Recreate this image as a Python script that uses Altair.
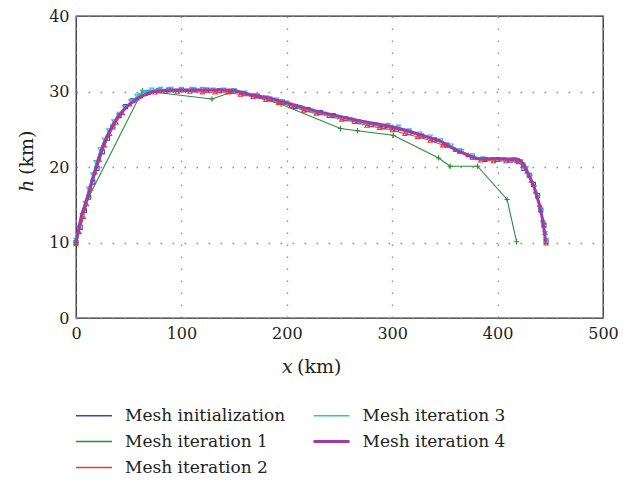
import altair as alt
import pandas as pd

series_names = ["Mesh initialization", "Mesh iteration 1", "Mesh iteration 2",
                "Mesh iteration 3", "Mesh iteration 4"]
series_colors = ["#3346c4", "#2a8a3c", "#f03434", "#2cc4c8", "#a23aa8"]

x_ticks = [0, 100, 200, 300, 400, 500]
h_ticks = [0, 10, 20, 30, 40]

# Mesh initialization (blue squares)
x0 = [0, 4, 8, 12, 16, 20, 25, 30, 35, 41, 47, 54, 61, 69, 78, 88, 100, 112, 124, 136,
      148, 160, 172, 184, 196, 208, 220, 232, 244, 256, 268, 280, 292, 304, 316, 328,
      340, 352, 364, 376, 388, 400, 412, 420, 425, 430, 434, 438, 441, 444, 446]
h0 = [10.0, 12.0, 14.2, 16.0, 18.0, 19.8, 22.0, 23.8, 25.3, 26.8, 28.0, 28.8, 29.4,
      29.9, 30.1, 30.2, 30.2, 30.2, 30.2, 30.1, 30.0, 29.7, 29.4, 29.0, 28.6, 28.0,
      27.6, 27.2, 26.8, 26.4, 26.0, 25.6, 25.3, 25.0, 24.6, 24.1, 23.6, 22.9, 22.1,
      21.3, 21.0, 21.0, 20.9, 20.7, 19.8, 18.9, 17.7, 16.2, 14.3, 12.3, 10.1]

# Mesh iteration 1 (green plus)
x1 = [0, 12, 63, 129, 151.5, 194.5, 251, 267, 301, 344, 355, 381, 409, 418]
h1 = [10.0, 16.0, 30.1, 29.0, 30.1, 28.3, 25.1, 24.8, 24.2, 21.2, 20.1, 20.1, 15.7, 10.1]

# Mesh iteration 2 (red triangles)
x2 = [0, 3, 7, 10, 14, 18, 22, 27, 32, 38, 44, 51, 58, 66, 75, 85, 96, 108, 120, 132,
      144, 156, 168, 180, 192, 204, 216, 228, 240, 252, 264, 276, 288, 300, 312, 324,
      336, 348, 360, 372, 384, 396, 408, 418, 424, 428, 432, 436, 440, 443, 445, 446]
h2 = [9.8, 11.4, 13.4, 15.1, 17.2, 19.3, 21.0, 22.9, 24.4, 25.9, 27.2, 28.3, 29.1,
      29.7, 29.9, 30.0, 30.0, 30.0, 29.9, 29.9, 29.9, 29.6, 29.3, 28.9, 28.5, 28.1,
      27.5, 27.1, 26.8, 26.3, 26.0, 25.5, 25.2, 24.9, 24.4, 24.0, 23.5, 22.9, 22.3,
      21.6, 20.9, 20.8, 20.8, 20.8, 20.2, 19.4, 18.2, 16.8, 15.0, 13.0, 11.3, 9.9]

# Mesh iteration 3 (cyan down-triangles)
x3 = [0, 3, 6, 9, 12, 16, 19, 23, 27, 31, 36, 41, 46, 52, 58, 65, 72, 80, 90, 100, 110,
      120, 130, 140, 150, 160, 170, 180, 190, 200, 212, 224, 236, 248, 260, 272, 284,
      296, 306, 316, 326, 336, 346, 356, 366, 376, 386, 396, 406, 416, 422, 427, 431,
      435, 438, 441, 443, 445, 446]
h3 = [10.3, 12.0, 13.6, 15.2, 17.1, 19.0, 20.6, 22.3, 23.6, 24.8, 26.0, 27.0, 27.9,
      28.7, 29.4, 29.9, 30.2, 30.3, 30.3, 30.3, 30.3, 30.3, 30.2, 30.2, 30.1, 29.8,
      29.5, 29.2, 28.9, 28.5, 27.9, 27.4, 27.0, 26.6, 26.3, 25.8, 25.6, 25.5, 25.3,
      24.8, 24.4, 24.0, 23.5, 22.8, 22.1, 21.5, 21.1, 21.0, 21.0, 21.0, 20.7, 19.8,
      18.7, 17.3, 16.0, 14.2, 12.6, 11.2, 10.3]

# Mesh iteration 4 (thick purple line)
x4 = [0, 5, 11, 15, 20, 26, 29, 35, 39, 48, 61, 73, 90, 120, 149, 165, 184, 203, 228,
      247, 270, 298, 317, 330, 345, 361, 380, 400, 420, 425, 429, 434, 439, 442, 444, 445.5]
h4 = [10.0, 13.5, 16.1, 18.1, 20.4, 23.0, 23.9, 25.6, 26.5, 28.0, 29.3, 30.0, 30.2,
      30.2, 30.2, 29.6, 29.1, 28.4, 27.4, 26.8, 26.1, 25.4, 24.7, 24.1, 23.5, 22.2,
      21.1, 21.1, 21.0, 20.4, 19.1, 17.6, 15.3, 13.5, 11.8, 10.1]

y_title_parts = ["h", "(km)"]
x_title_parts = ["x", "(km)"]

all_x = [x0, x1, x2, x3, x4]
all_h = [h0, h1, h2, h3, h4]
frames = []
for name, xs, hs in zip(series_names, all_x, all_h):
    frames.append(pd.DataFrame({"series": name, "x": xs, "h": hs, "idx": list(range(len(xs)))}))
df = pd.concat(frames, ignore_index=True)

FONT = "DejaVu Serif"

xenc = alt.X("x:Q", scale=alt.Scale(domain=[0, 500], nice=False),
             axis=alt.Axis(values=x_ticks, title=None, labelPadding=7, labelFlush=False))
yenc = alt.Y("h:Q", scale=alt.Scale(domain=[0, 40], nice=False),
             axis=alt.Axis(values=h_ticks, title=None, labelPadding=7, labelFlush=False))
cenc = alt.Color("series:N", scale=alt.Scale(domain=series_names, range=series_colors),
                 legend=alt.Legend(orient="none", legendX=9.5, legendY=391, columns=2,
                                   values=series_names,
                                   title=None, symbolType="stroke", symbolSize=1296,
                                   symbolStrokeWidth=alt.ExprRef(
                                       "datum.value === 'Mesh iteration 4' ? 3.2 : 1.6"),
                                   labelFont=FONT, labelFontSize=17, labelColor="#222",
                                   labelOffset=22.5, rowPadding=8, columnPadding=21.5,
                                   padding=0, labelLimit=400))

shapes = {"Mesh initialization": "square",
          "Mesh iteration 1": "M-1,0H1M0,-1V1",
          "Mesh iteration 2": "triangle-up",
          "Mesh iteration 3": "triangle-down"}
msize = {"Mesh initialization": 16, "Mesh iteration 1": 28,
         "Mesh iteration 2": 16, "Mesh iteration 3": 18}

layers = []
for name in series_names:
    base = alt.Chart(df).transform_filter(alt.datum.series == name)
    if name == "Mesh iteration 4":
        mk = base.mark_line(strokeWidth=3.0)
    else:
        mk = base.mark_line(strokeWidth=1.1,
                            point=alt.OverlayMarkDef(shape=shapes[name], size=msize[name],
                                                     filled=False, strokeWidth=1.1))
    layers.append(mk.encode(x=xenc, y=yenc, color=cenc, order="idx:Q"))

ydf = pd.DataFrame({"t": y_title_parts})
xdf = pd.DataFrame({"t": x_title_parts})
yt1 = alt.Chart(ydf.iloc[[0]]).mark_text(font=FONT, fontSize=19, fontStyle="italic",
                                         angle=270, align="left", baseline="middle",
                                         color="#222").encode(
    text="t:N", x=alt.value(-49), y=alt.value(176))
yt2 = alt.Chart(ydf.iloc[[1]]).mark_text(font=FONT, fontSize=19, angle=270, align="left",
                                         baseline="middle", color="#222").encode(
    text="t:N", x=alt.value(-49), y=alt.value(159))
xt1 = alt.Chart(xdf.iloc[[0]]).mark_text(font=FONT, fontSize=19, fontStyle="italic",
                                         align="left", baseline="middle",
                                         color="#222").encode(
    text="t:N", x=alt.value(206), y=alt.value(351))
xt2 = alt.Chart(xdf.iloc[[1]]).mark_text(font=FONT, fontSize=19, align="left",
                                         baseline="middle", color="#222").encode(
    text="t:N", x=alt.value(221), y=alt.value(351))

chart = alt.layer(*layers, yt1, yt2, xt1, xt2).properties(
    width=527, height=302,
    autosize=alt.AutoSizeParams(type="none"),
    padding={"left": 68, "top": 8, "right": 24, "bottom": 160},
).configure_view(stroke="#2a2a2a", strokeWidth=1.3).configure_axis(
    domain=False, ticks=False, grid=True, gridColor="#8a8a8a", gridDash=[1.5, 10.5],
    gridWidth=1.3, labelFont=FONT, labelFontSize=16, labelColor="#222"
)

chart.save("out.html", embed_options={"renderer": "svg", "actions": False})
